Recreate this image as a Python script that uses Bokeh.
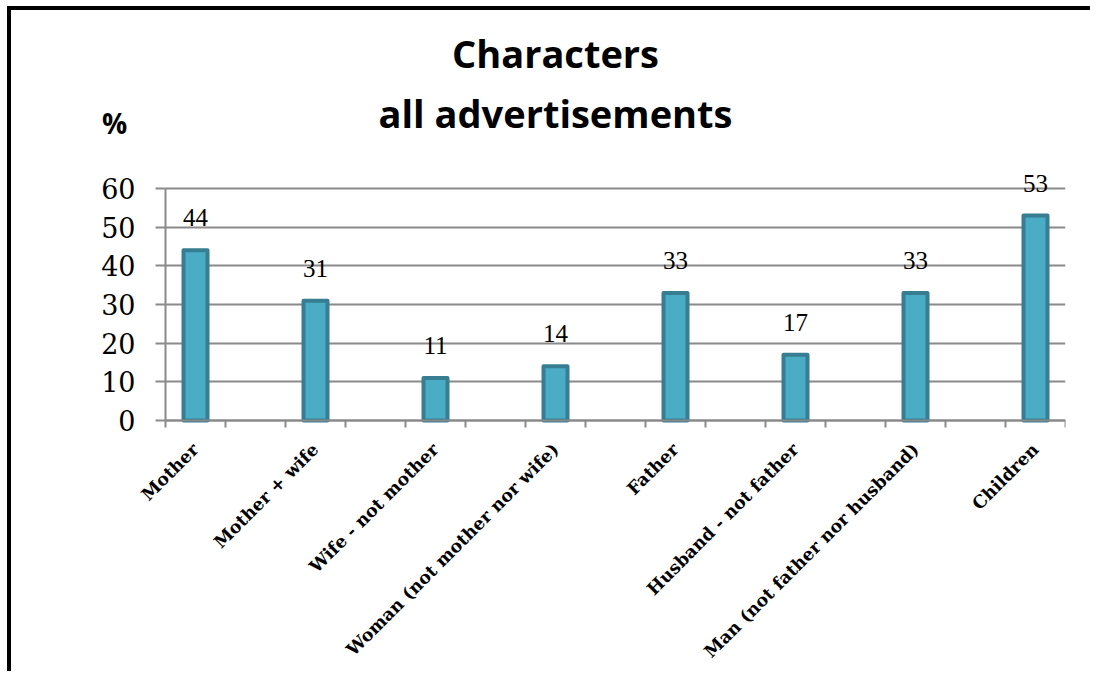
import math
from bokeh.plotting import figure
from bokeh.models import (ColumnDataSource, FixedTicker, Range1d, LabelSet, Label)
from bokeh.embed import file_html
from bokeh.resources import INLINE

# ---- data ----
categories = ["Mother", "Mother + wife", "Wife - not mother",
              "Woman (not mother nor wife)", "Father", "Husband - not father",
              "Man (not father nor husband)", "Children"]
values = [44, 31, 11, 14, 33, 17, 33, 53]
y_ticks = [0, 10, 20, 30, 40, 50, 60]
title_lines = ["Characters", "all advertisements"]
y_unit = "%"

# each category occupies two slots; the bar sits in the first one
n_slots = 2 * len(categories) - 1
xs = [2 * i + 0.5 for i in range(len(categories))]

src = ColumnDataSource(dict(x=xs, top=values, lbl=[str(v) for v in values]))

# layout constants (pixels)
PX_X = 60.0            # pixels per x unit
PX_Y = 232.0 / 60.0    # pixels per y unit
LEFT_BORDER = 85
ZERO_FROM_TOP = 410    # px from canvas top to the zero line
ZERO_FROM_BOTTOM = 255 # px from zero line to canvas bottom

p = figure(width=1083, height=665, output_backend="svg", toolbar_location=None,
           x_range=Range1d(-(154 - LEFT_BORDER) / PX_X, n_slots),
           y_range=Range1d(-ZERO_FROM_BOTTOM / PX_Y, ZERO_FROM_TOP / PX_Y),
           min_border_left=LEFT_BORDER, min_border_right=29, min_border_top=0,
           min_border_bottom=0, title=None,
           margin=(6, 0, 0, 7),
           styles={"border-left": "4px solid black", "border-top": "4px solid black"})
p.outline_line_color = None
p.background_fill_color = "white"
p.border_fill_color = "white"

p.vbar(x="x", top="top", width=0.4, bottom=0, source=src,
       fill_color="#4BACC6", line_color="#377E93", line_width=4,
       line_join="round")

# value labels
p.add_layout(LabelSet(x="x", y="top", text="lbl", source=src, text_align="center",
                      text_baseline="alphabetic", y_offset=24,
                      text_font="DejaVu Serif", text_font_size="25px",
                      text_color="black"))

# y axis drawn at x = 0
yax = p.yaxis[0]
yax.fixed_location = 0
yax.ticker = FixedTicker(ticks=y_ticks, minor_ticks=[])
yax.bounds = (0, 60)
yax.axis_line_color = "#8a8a8a"
yax.axis_line_width = 2
yax.major_tick_line_color = "#8a8a8a"
yax.major_tick_line_width = 2
yax.major_tick_out = 10
yax.major_tick_in = 0
yax.minor_tick_line_color = None
yax.major_label_standoff = 20
yax.major_label_text_font = "DejaVu Serif"
yax.major_label_text_font_size = "27px"
yax.major_label_text_color = "black"

# x axis drawn at y = 0
xax = p.xaxis[0]
xax.fixed_location = 0
xax.bounds = (0, n_slots)
xax.ticker = FixedTicker(ticks=xs, minor_ticks=list(range(0, n_slots + 1)))
xax.major_label_overrides = {x: c for x, c in zip(xs, categories)}
xax.major_label_orientation = math.pi / 4
xax.axis_line_color = "#8a8a8a"
xax.axis_line_width = 2
xax.major_tick_line_color = None
xax.minor_tick_line_color = "#8a8a8a"
xax.minor_tick_line_width = 2
xax.minor_tick_out = 7
xax.minor_tick_in = 0
xax.major_label_standoff = 19
xax.major_label_text_font = "DejaVu Serif"
xax.major_label_text_font_style = "bold"
xax.major_label_text_font_size = "17.5px"
xax.major_label_text_color = "black"

# grid
p.xgrid.visible = False
yg = p.ygrid[0]
yg.ticker = FixedTicker(ticks=y_ticks)
if "cross_bounds" in yg.properties():
    yg.cross_bounds = (0, n_slots)
yg.grid_line_color = "#8a8a8a"
yg.grid_line_width = 2

# titles (inside the frame, data units)
TITLE_FS = 38
UNIT_FS = 28
title_x = (555 - 165) / PX_X
p.add_layout(Label(x=title_x, y=(420 - 70) / PX_Y, y_offset=0.45 * TITLE_FS,
                   text=title_lines[0],
                   text_align="center", text_baseline="alphabetic",
                   text_font="Open Sans", text_font_style="bold",
                   text_font_size=f"{TITLE_FS}px", text_color="black"))
p.add_layout(Label(x=title_x, y=(420 - 130) / PX_Y, y_offset=0.45 * TITLE_FS,
                   text=title_lines[1],
                   text_align="center", text_baseline="alphabetic",
                   text_font="Open Sans", text_font_style="bold",
                   text_font_size=f"{TITLE_FS}px", text_color="black"))
p.add_layout(Label(x=(114 - 165) / PX_X, y=(420 - 135) / PX_Y, y_offset=0.45 * UNIT_FS,
                   text=y_unit,
                   text_align="center", text_baseline="alphabetic",
                   text_font="Open Sans", text_font_style="bold",
                   text_font_size=f"{UNIT_FS}px", text_color="black"))

open("out.html", "w").write(file_html(p, INLINE))
